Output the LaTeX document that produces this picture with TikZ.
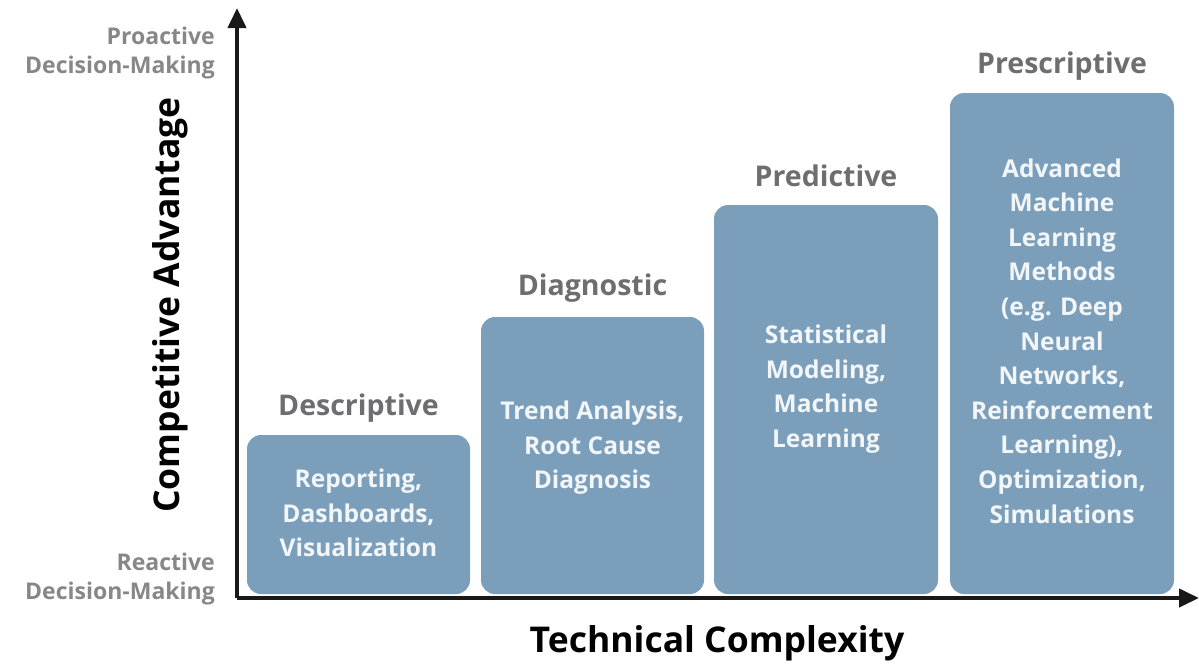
\documentclass[tikz,border=0pt]{standalone}
\usepackage{fontspec}
\setmainfont{Open Sans}
\usetikzlibrary{arrows.meta}
\definecolor{boxblue}{RGB}{123,159,186}
\definecolor{boxtext}{RGB}{242,246,249}
\definecolor{titlegray}{RGB}{110,110,112}
\definecolor{sidegray}{RGB}{135,135,137}
\tikzset{
  stagebox/.style={fill=boxblue, rounded corners=14pt, draw=none},
  boxlabel/.style={text=boxtext, font=\bfseries\fontsize{24.5}{34.6}\selectfont, align=center, inner sep=0pt},
  stagetitle/.style={text=titlegray, font=\bfseries\fontsize{28.5}{30}\selectfont, inner sep=0pt},
  sidelabel/.style={text=sidegray, font=\bfseries\fontsize{23}{29}\selectfont, align=right, inner sep=0pt, anchor=east},
  axislabel/.style={text=black, font=\bfseries\fontsize{35.5}{38}\selectfont, inner sep=0pt},
  axisline/.style={line width=4pt, draw=black!90, -{Triangle[length=20pt,width=18pt]}}
}
\begin{document}
\begin{tikzpicture}[x=1pt,y=-1pt]
\useasboundingbox (0,0) rectangle (1199,664);
% boxes
\fill[stagebox] (247,435) rectangle (470,594);
\fill[stagebox] (481,317) rectangle (704,594);
\fill[stagebox] (714,205) rectangle (938,594);
\fill[stagebox] (950,93) rectangle (1174,594);
% axes
\coordinate (O) at (237,598);
\coordinate (ytip) at (237,8);
\coordinate (xtip) at (1199,598);
\draw[axisline] (O) -- (ytip);
\draw[axisline] (O) -- (xtip);
% box texts
\node[boxlabel] (t1) at (358.5,513) {Reporting,\\Dashboards,\\Visualization};
\node[boxlabel] (t2) at (592.5,448) {Trend Analysis,\\Root Cause\\Diagnosis};
\node[boxlabel] (t3) at (826,389) {Statistical\\Modeling,\\Machine\\Learning};
\node[boxlabel] (t4) at (1062,341) {Advanced\\Machine\\Learning\\Methods\\(e.g. Deep\\Neural\\Networks,\\Reinforcement\\Learning),\\Optimization,\\Simulations};
% titles
\node[stagetitle] (s1) at (358.5,408) {Descriptive};
\node[stagetitle] (s2) at (592.5,288) {Diagnostic};
\node[stagetitle] (s3) at (826,176) {Predictive};
\node[stagetitle] (s4) at (1062,66) {Prescriptive};
% side labels
\node[sidelabel] (pro) at (215,53) {Proactive\\Decision-Making};
\node[sidelabel] (rea) at (215,579) {Reactive\\Decision-Making};
% axis labels
\node[axislabel, rotate=90] (ya) at (170,305) {Competitive Advantage};
\node[axislabel] (xa) at (717,643) {Technical Complexity};
\end{tikzpicture}
\end{document}
